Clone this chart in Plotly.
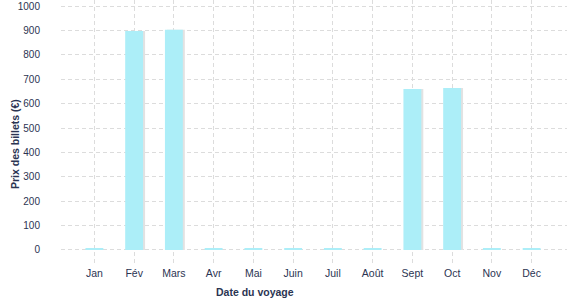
import plotly.graph_objects as go

months = ["Jan", "Fév", "Mars", "Avr", "Mai", "Juin", "Juil", "Août", "Sept", "Oct", "Nov", "Déc"]
prices = [6, 898, 903, 6, 6, 6, 6, 6, 660, 664, 6, 6]
y_ticks = [0, 100, 200, 300, 400, 500, 600, 700, 800, 900, 1000]

text_color = "#2b3452"
bar_color = "#aceef8"
shadow_color = "#e2e2e2"
grid_color = "#dcdcdc"
font_family = "Liberation Sans, Arial, sans-serif"

fig = go.Figure()
fig.add_trace(go.Bar(
    x=months, y=[v if v > 50 else 0 for v in prices], width=0.45, offset=-0.225 + 0.05,
    marker=dict(color=shadow_color, line=dict(width=0)),
    hoverinfo="skip", showlegend=False,
))
fig.add_trace(go.Bar(
    x=months, y=prices, width=0.45, offset=-0.225,
    marker=dict(color=bar_color, line=dict(width=0)),
    showlegend=False,
))

fig.update_layout(
    width=577, height=300,
    margin=dict(l=61, r=10, t=0, b=35),
    barmode="overlay",
    plot_bgcolor="white", paper_bgcolor="white",
    font=dict(family=font_family, size=10, color=text_color),
    xaxis=dict(
        type="category", range=[-0.84, 11.89],
        showgrid=True, gridcolor=grid_color, griddash="4px,3px", gridwidth=1,
        showline=False, zeroline=False, ticks="",
        tickfont=dict(size=10.5, color=text_color),
    ),
    yaxis=dict(
        range=[-61.5, 1024.6], tickvals=y_ticks,
        showgrid=True, gridcolor=grid_color, griddash="4px,3px", gridwidth=1,
        showline=False, zeroline=False, ticks="",
        ticklabelstandoff=20,
        tickfont=dict(size=10, color=text_color),
    ),
    annotations=[
        dict(text="<b>Date du voyage</b>", xref="paper", yref="paper",
             x=(255 - 61) / 506, y=-(292 - 265) / 265, showarrow=False,
             xanchor="center", yanchor="middle",
             font=dict(size=10.5, color=text_color)),
        dict(text="<b>Prix des billets (€)</b>", xref="paper", yref="paper",
             x=(15 - 61) / 506, y=(265 - 144) / 265, showarrow=False,
             textangle=-90, xanchor="center", yanchor="middle",
             font=dict(size=10.5, color=text_color)),
    ],
)

fig.write_html("out.html")
